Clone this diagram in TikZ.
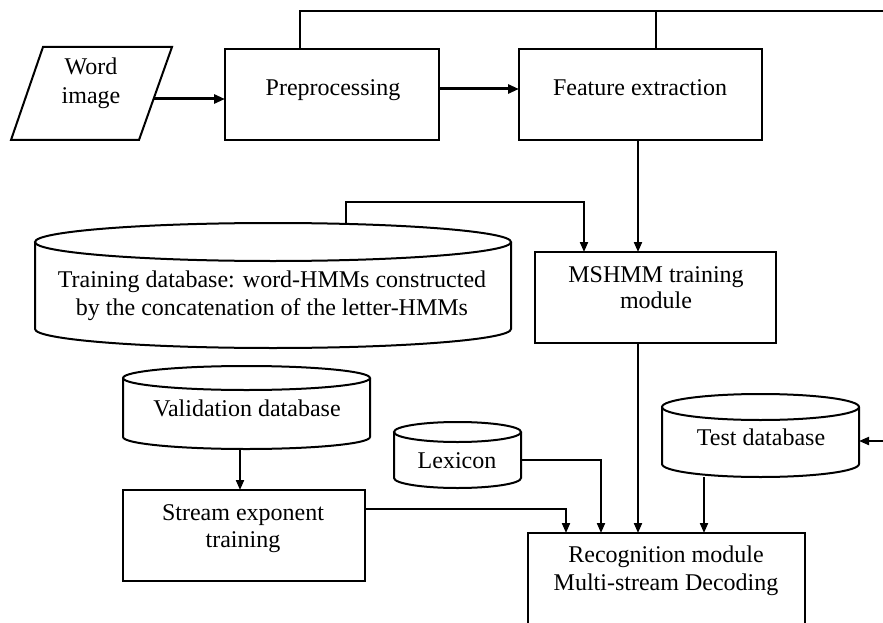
\documentclass[tikz,border=0pt]{standalone}
\usepackage{fontspec}
\setmainfont{Liberation Serif}
\usetikzlibrary{arrows.meta}
\newcommand\dbcyl[6]{%
  \pgfmathsetmacro\cylcx{(#2+#3)/2}%
  \pgfmathsetmacro\cylrx{(#3-#2)/2}%
  \pgfmathsetmacro\cylw{#3-#2}%
  \pgfmathsetmacro\cylyn{#4-#6}%
  \pgfmathsetmacro\cylh{#5-#4+2*#6}%
  \node[inner sep=0pt, outer sep=0pt, minimum width=\cylw pt, minimum height=\cylh pt, anchor=north west] (#1) at (#2,\cylyn) {};
  \draw[cylline] (#2,#4) -- (#2,#5) arc[start angle=180, end angle=360, x radius=\cylrx pt, y radius=#6pt] -- (#3,#4);
  \draw[cylline] (\cylcx,#4) ellipse[x radius=\cylrx pt, y radius=#6pt];
}
\begin{document}
\begin{tikzpicture}[x=1pt, y=-1pt,
  lbl/.style={font=\fontsize{24}{29}\selectfont, inner sep=0pt, anchor=base},
  boxnode/.style={draw, line width=2pt, inner sep=0pt, outer sep=0pt, anchor=north west},
  cylline/.style={line width=2pt},
  conn/.style={line width=2pt, -{Triangle[length=10pt,width=8pt]}},
  plain/.style={line width=2pt},
  thickconn/.style={line width=3pt, -{Triangle[length=11pt,width=9pt]}}]
\useasboundingbox (0,0) rectangle (883,623);
\clip (0,0) rectangle (883,623);
\fill[white] (0,0) rectangle (883,623);

% Word image parallelogram
\draw[line width=2pt] (11,140) -- (43,47) -- (172,47) -- (139,140) -- cycle;
\coordinate (wordout) at (153,99);
\node[lbl] (w1) at (91,75) {Word};
\node[lbl] (w2) at (91,104) {image};

% boxes
\node[boxnode, minimum width=214pt, minimum height=91pt] (pre) at (225,49) {};
\node[lbl] (pret) at (333,96) {Preprocessing};
\node[boxnode, minimum width=243pt, minimum height=91pt] (feat) at (519,49) {};
\node[lbl] (featt) at (640,96) {Feature extraction};
\node[boxnode, minimum width=241pt, minimum height=91pt] (msh) at (535,252) {};
\node[lbl] (msht1) at (656,282) {MSHMM training};
\node[lbl] (msht2) at (656,308) {module};
\node[boxnode, minimum width=242pt, minimum height=91pt] (str) at (123,490) {};
\node[lbl] (strt1) at (243,520) {Stream exponent};
\node[lbl] (strt2) at (243,547) {training};
\node[boxnode, minimum width=277pt, minimum height=110pt] (rec) at (528,533) {};
\node[lbl] (rect1) at (666,562) {Recognition module};
\node[lbl] (rect2) at (666,590) {Multi-stream Decoding};

% cylinders
\dbcyl{trn}{35}{511}{242}{329}{19}
\node[lbl] (trnt1) at (272,287) {Training database: word-HMMs constructed};
\node[lbl] (trnt2) at (272,315) {by the concatenation of the letter-HMMs};
\dbcyl{val}{123}{370}{378}{437}{12}
\node[lbl] (valt) at (247,416) {Validation database};
\dbcyl{lex}{394}{521}{432}{478}{10}
\node[lbl] (lext) at (457,468) {Lexicon};
\dbcyl{tst}{662}{859}{407}{464}{13}
\node[lbl] (tstt) at (761,445) {Test database};

% connectors
\coordinate (topend) at (883,11);
\coordinate (rightin) at (883,441);
\draw[plain] ([xshift=75pt]pre.north west) |- (topend);
\draw[plain] ([xshift=137pt]feat.north west) -- ([xshift=137pt]feat.north west |- topend);
\draw[thickconn] (wordout) -- (pre.west |- wordout);
\draw[thickconn] ([yshift=5.5pt]pre.east) -- ([yshift=5.5pt]feat.west);
\draw[conn] ([xshift=119pt]feat.south west) -- ([xshift=103pt]msh.north west);
\draw[conn] ([xshift=73pt]trn.north) -- ++(0,-21) -| ([xshift=49pt]msh.north west);
\draw[conn] ([xshift=103pt]msh.south west) -- ([xshift=110pt]rec.north west);
\draw[conn] ([xshift=-6.5pt]val.south) -- ([xshift=117pt]str.north west);
\draw[conn] ([yshift=26.5pt]str.east) -| ([xshift=38pt]rec.north west);
\draw[conn] ([yshift=-5pt]lex.east) -| ([xshift=73pt]rec.north west);
\draw[conn] ([xshift=-56.5pt]tst.south) -- ([xshift=176pt]rec.north west);
\draw[conn] (rightin) -- (tst.east |- rightin);
\end{tikzpicture}
\end{document}
